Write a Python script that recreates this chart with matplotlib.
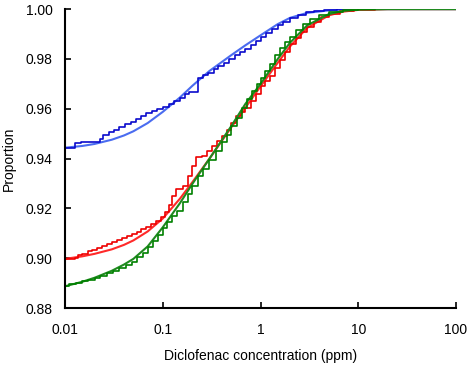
import numpy as np
import matplotlib
matplotlib.use("Agg")
import matplotlib.pyplot as plt
from matplotlib.ticker import FixedLocator, FixedFormatter, NullLocator

plt.rcParams['font.family'] = ['Liberation Sans', 'DejaVu Sans']

blue_x = [0.010, 0.0125, 0.0145, 0.0225, 0.0245, 0.028, 0.032, 0.036, 0.041, 0.047,
          0.053, 0.060, 0.068, 0.077, 0.087, 0.10, 0.115, 0.13, 0.15, 0.17, 0.185,
          0.228, 0.26, 0.29, 0.33, 0.37, 0.42, 0.48, 0.55, 0.62, 0.70, 0.80, 0.9,
          1.0, 1.15, 1.3, 1.5, 1.7, 2.0, 2.4, 2.9, 3.5, 4.5, 6, 8, 15]
blue_y = [0.9444, 0.9462, 0.9466, 0.9478, 0.9495, 0.9508, 0.9517, 0.9528, 0.9538, 0.9548,
          0.9558, 0.9570, 0.9582, 0.9592, 0.9600, 0.9608, 0.9620, 0.9632, 0.9645, 0.9660, 0.9668,
          0.9725, 0.9735, 0.9745, 0.9758, 0.9770, 0.9785, 0.9800, 0.9815, 0.9828, 0.9842, 0.9858, 0.9872,
          0.9888, 0.9905, 0.9920, 0.9936, 0.9950, 0.9965, 0.9978, 0.9987, 0.9993, 0.9997, 0.9999, 1.0, 1.0]

red_x = [0.010, 0.0125, 0.0135, 0.015, 0.017, 0.019, 0.021, 0.024, 0.027, 0.030,
         0.034, 0.038, 0.043, 0.048, 0.054, 0.060, 0.068, 0.076, 0.085, 0.095,
         0.105, 0.115, 0.125, 0.135, 0.16, 0.18, 0.20, 0.22, 0.25, 0.28, 0.32,
         0.36, 0.40, 0.45, 0.50, 0.56, 0.63, 0.70, 0.80, 0.90, 1.0, 1.1, 1.25,
         1.4, 1.6, 1.8, 2.0, 2.3, 2.6, 3.0, 3.5, 4.2, 5, 6.5, 9, 15]
red_y = [0.8998, 0.9003, 0.9012, 0.9018, 0.9028, 0.9034, 0.9042, 0.9048, 0.9056, 0.9064,
         0.9072, 0.9082, 0.9090, 0.9098, 0.9106, 0.9116, 0.9126, 0.9138, 0.9150, 0.9166,
         0.9185, 0.9215, 0.9250, 0.9278, 0.9290, 0.9330, 0.9370, 0.9405, 0.9412, 0.9430, 0.9450,
         0.9470, 0.9490, 0.9515, 0.9545, 0.9570, 0.9588, 0.9605, 0.9630, 0.9660, 0.9690, 0.9712, 0.9730,
         0.9765, 0.9795, 0.9830, 0.9860, 0.9885, 0.9910, 0.9930, 0.9950, 0.9970, 0.9982, 0.9992, 0.9998, 1.0]

green_x = [0.010, 0.011, 0.013, 0.015, 0.017, 0.020, 0.023, 0.027, 0.031, 0.036,
           0.042, 0.048, 0.055, 0.062, 0.070, 0.080, 0.090, 0.10, 0.11, 0.125,
           0.14, 0.16, 0.18, 0.20, 0.23, 0.26, 0.30, 0.35, 0.40, 0.45, 0.50,
           0.57, 0.65, 0.73, 0.82, 0.92, 1.0, 1.1, 1.25, 1.4, 1.6, 1.8, 2.0,
           2.3, 2.7, 3.2, 4.0, 5.0, 7, 10, 15]
green_y = [0.8888, 0.8895, 0.8902, 0.8908, 0.8912, 0.8922, 0.8930, 0.8942, 0.8950, 0.8962,
           0.8975, 0.8985, 0.9005, 0.9022, 0.9045, 0.9068, 0.9092, 0.9120, 0.9145, 0.9170,
           0.9190, 0.9225, 0.9260, 0.9290, 0.9330, 0.9360, 0.9395, 0.9430, 0.9465, 0.9495, 0.9530,
           0.9565, 0.9605, 0.9640, 0.9670, 0.9700, 0.9725, 0.9750, 0.9780, 0.9815, 0.9845, 0.9870, 0.9890,
           0.9915, 0.9940, 0.9960, 0.9978, 0.9990, 0.9997, 1.0, 1.0]

# fitted (smooth) curves
fit_x = [0.01, 0.015, 0.02, 0.03, 0.04, 0.05, 0.07, 0.1, 0.15, 0.2, 0.3, 0.5, 0.7,
         1.0, 1.5, 2.0, 3.0, 5.0, 7.0, 10, 20, 100]
blue_fit = [0.9444, 0.9451, 0.9459, 0.9476, 0.9493, 0.9510, 0.9543, 0.9588, 0.9646, 0.9692,
            0.9752, 0.9815, 0.9855, 0.9895, 0.9940, 0.9965, 0.9985, 0.9995, 0.9998, 1.0, 1.0, 1.0]
red_fit = [0.8998, 0.9008, 0.9018, 0.9036, 0.9054, 0.9072, 0.9108, 0.9160, 0.9240, 0.9305,
           0.9400, 0.9525, 0.9605, 0.9690, 0.9785, 0.9850, 0.9925, 0.9975, 0.9990, 0.9997, 1.0, 1.0]
green_fit = [0.8888, 0.8906, 0.8922, 0.8950, 0.8975, 0.8998, 0.9048, 0.9125, 0.9222, 0.9298,
             0.9400, 0.9530, 0.9620, 0.9700, 0.9800, 0.9865, 0.9935, 0.9980, 0.9993, 0.9998, 1.0, 1.0]

xticks = [0.01, 0.1, 1, 10, 100]
xtick_labels = ['0.01', '0.1', '1', '10', '100']
yticks = [0.88, 0.90, 0.92, 0.94, 0.96, 0.98, 1.00]

fig = plt.figure(figsize=(4.72, 3.66), dpi=100)
ax = fig.add_axes([0.138, 0.158, 0.828, 0.817])

ax.plot(fit_x, blue_fit, color='#4A6CF0', lw=1.5)
ax.plot(blue_x, blue_y, color='#0A0ACC', lw=1.2, drawstyle='steps-post')
ax.plot(fit_x, red_fit, color='#FF2A2A', lw=1.5)
ax.plot(red_x, red_y, color='#EE0000', lw=1.2, drawstyle='steps-post')
ax.plot(fit_x, green_fit, color='#1F8A1F', lw=1.5)
ax.plot(green_x, green_y, color='#008000', lw=1.2, drawstyle='steps-post')

ax.set_xscale('log')
ax.set_xlim(0.01, 100)
ax.set_ylim(0.88, 1.00)
ax.xaxis.set_major_locator(FixedLocator(xticks))
ax.xaxis.set_major_formatter(FixedFormatter(xtick_labels))
ax.xaxis.set_minor_locator(NullLocator())
ax.set_yticks(yticks)
ax.set_yticklabels(['%.2f' % v for v in yticks])

for s in ['top', 'right']:
    ax.spines[s].set_visible(False)
for s in ['left', 'bottom']:
    ax.spines[s].set_linewidth(1.5)
ax.tick_params(direction='in', length=4, width=1.2, labelsize=10)
ax.tick_params(axis='x', pad=11)
ax.tick_params(axis='y', pad=9)
ax.set_xlabel('Diclofenac concentration (ppm)', fontsize=10, labelpad=8)
ax.set_ylabel('Proportion', fontsize=10, labelpad=7)

fig.savefig('out.png', dpi=100)
